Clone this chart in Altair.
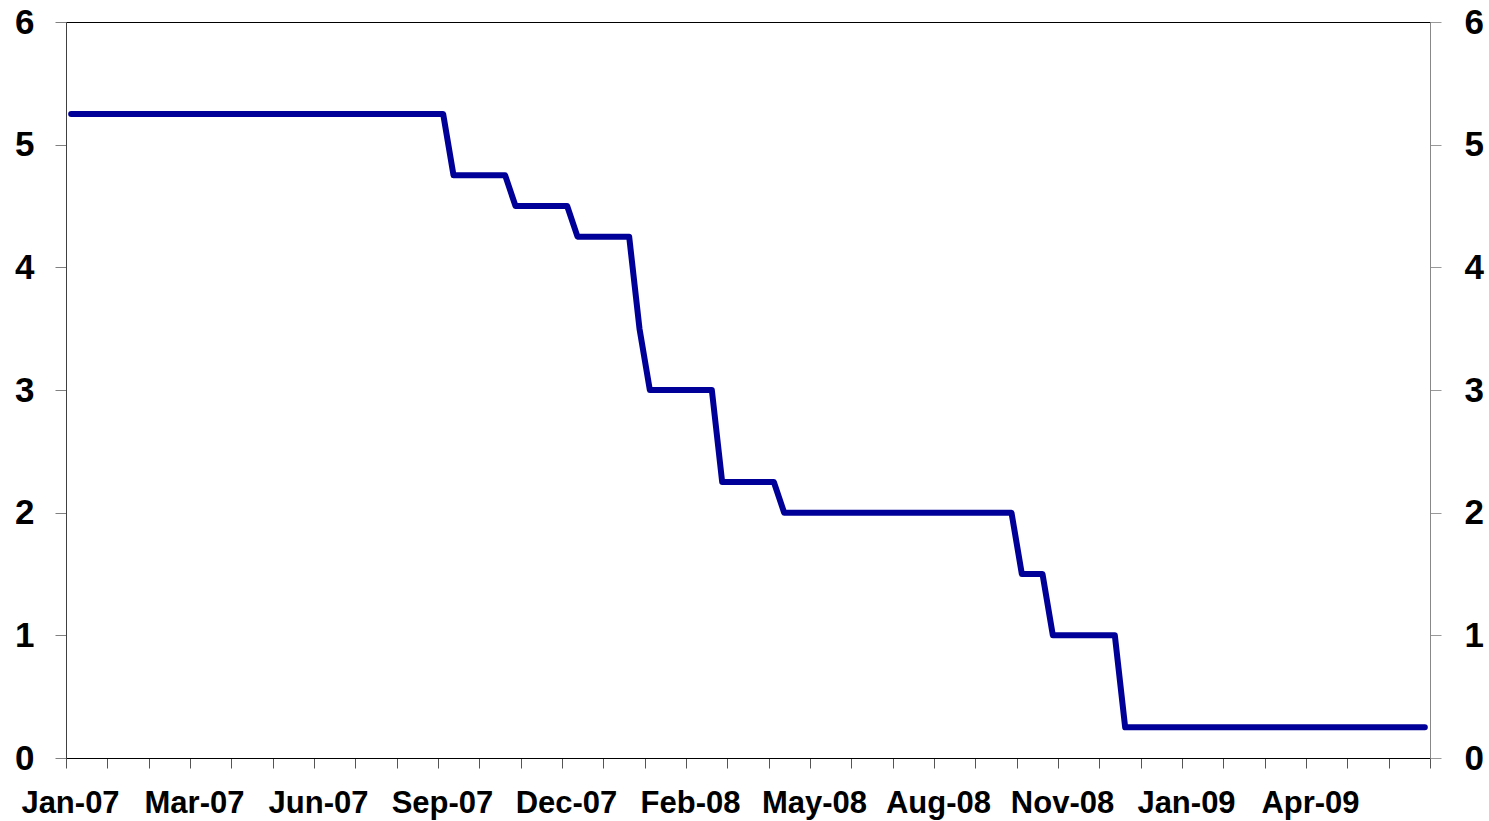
import altair as alt
import pandas as pd

# Step vertices of the weekly policy-rate series (weekly points, Fridays)
dates = ["2007-01-05", "2007-09-14", "2007-09-21", "2007-10-26", "2007-11-02",
         "2007-12-07", "2007-12-14", "2008-01-18", "2008-01-25", "2008-02-01",
         "2008-03-14", "2008-03-21", "2008-04-25", "2008-05-02", "2008-10-03",
         "2008-10-10", "2008-10-24", "2008-10-31", "2008-12-12", "2008-12-19",
         "2009-07-10"]
rates = [5.25, 5.25, 4.75, 4.75, 4.5, 4.5, 4.25, 4.25, 3.5, 3.0, 3.0,
         2.25, 2.25, 2.0, 2.0, 1.5, 1.5, 1.0, 1.0, 0.25, 0.25]
y_ticks = [0, 1, 2, 3, 4, 5, 6]

DAY = 86400000
t0 = int(pd.Timestamp("2007-01-01T12:00:00Z").value // 10**6)
n_ticks = 34
x_ticks = [t0 + 28 * DAY * j for j in range(n_ticks)]
t1 = x_ticks[-1]

df = pd.DataFrame({"date": dates, "rate": rates})

FONT = "Liberation Sans"
FSX = 31
FSY = 35

label_expr = (
    f"(round((time(datum.value) - {t0}) / {28 * DAY}) % 3 == 0 && "
    f"round((time(datum.value) - {t0}) / {28 * DAY}) < {n_ticks - 1}) ? "
    f"utcFormat(time(datum.value) + {int(3.5 * DAY)}, '%b-%y') : ''"
)

x_scale = alt.Scale(type="utc", domain=[t0, t1])
y_scale = alt.Scale(domain=[0, 6], nice=False, zero=True)

x_enc = alt.X(
    "date:T",
    scale=x_scale,
    axis=alt.Axis(
        orient="bottom", values=x_ticks, labelExpr=label_expr, title=None, grid=False,
        ticks=True, domain=True,
        domainColor="#000000", tickColor="#555555", tickSize=10, tickWidth=1,
        labelPadding=20, labelFont=FONT, labelFontSize=FSX, labelFontWeight="bold",
        labelColor="#000000", labelOverlap=False, labelFlush=False, labelOffset=4,
        labelBaseline="top",
    ),
)

left = alt.Chart(df).mark_line(
    color="#000099", strokeWidth=6, strokeCap="round", strokeJoin="round"
).encode(
    x=x_enc,
    y=alt.Y("rate:Q", scale=y_scale,
            axis=alt.Axis(orient="left", values=y_ticks, format="d", title=None,
                          grid=False, ticks=True, domain=True,
                          domainColor="#404040", tickColor="#808080",
                          tickSize=11, tickWidth=1, labelPadding=21, labelFont=FONT,
                          labelFontSize=FSY, labelFontWeight="bold",
                          labelColor="#000000")),
)

right = alt.Chart(df).mark_line(opacity=0).encode(
    x=alt.X("date:T", scale=x_scale),
    y=alt.Y("rate:Q", scale=y_scale,
            axis=alt.Axis(orient="right", values=y_ticks, format="d", title=None,
                          grid=False, ticks=True, domain=True,
                          domainColor="#888888", tickColor="#999999",
                          tickSize=11, tickWidth=1, labelPadding=23, labelFont=FONT,
                          labelFontSize=FSY, labelFontWeight="bold",
                          labelColor="#000000")),
)

chart = alt.layer(left, right).resolve_scale(y="independent").properties(
    width=1364, height=736,
    padding={"left": 66, "top": 22, "right": 59, "bottom": 63},
    autosize=alt.AutoSizeParams(type="none"),
    background="white",
).configure_view(stroke="#000000", strokeWidth=1)

chart.save("out.html", embed_options={"renderer": "svg", "actions": False})
